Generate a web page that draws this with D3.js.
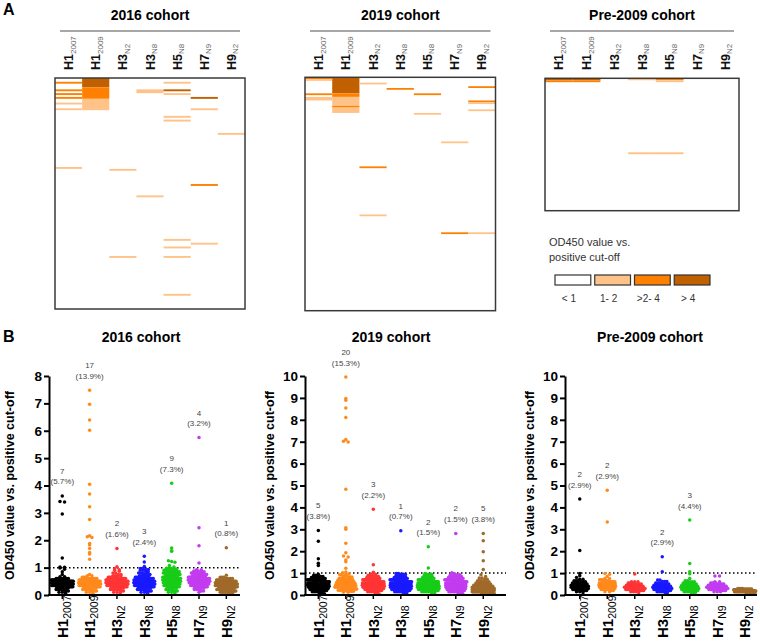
<!DOCTYPE html>
<html><head><meta charset="utf-8">
<script src="https://cdn.jsdelivr.net/npm/d3@7"></script>
<style>
body{margin:0;background:#fff}
svg{display:block}
text{font-family:"Liberation Sans",Arial,Helvetica,sans-serif}
</style>
</head><body>
<svg id="c" width="760" height="641"></svg>
<script>
// ---------------- DATA ----------------
const antigens = [["H1","2007"],["H1","2009"],["H3","N2"],["H3","N8"],["H5","N8"],["H7","N9"],["H9","N2"]];
const cohorts = ["2016 cohort","2019 cohort","Pre-2009 cohort"];
const cohortN = [122,131,68];
const dotColors = ["#000000","#ff8a1c","#ff3535","#1a1aff","#18cc18","#c23cf0","#a06a2a"];
const levelColors = ["#ffffff","#ffc389","#ff8000","#c06000"];
const levelLabels = ["< 1","1- 2",">2- 4","> 4"];
const legendTitle = ["OD450 value vs.","positive cut-off"];
const yTitle = "OD450 value vs. positive cut-off";
const yMax = [8,10,10];

// heatmap: for each antigen, [row (sample index), level]
const heat2016 = [
  [[2,2],[6,2],[8,2],[10,2],[13,1],[16,1],[47,1]],
  [[0,3],[1,3],[2,3],[3,3],[4,3],[5,2],[6,2],[7,2],[8,2],[9,2],[10,2],[11,1],[12,1],[13,1],[14,1],[15,1],[16,1]],
  [[48,1],[94,1]],
  [[6,1],[7,1],[62,1]],
  [[2,1],[6,3],[8,1],[20,1],[22,1],[85,1],[89,1],[94,1],[114,1]],
  [[10,3],[16,1],[56,2],[87,1]],
  [[29,1]]
];
const heat2019 = [
  [[0,2],[1,1],[9,2],[11,1],[12,1]],
  [[0,3],[1,3],[2,3],[3,3],[4,3],[5,3],[6,3],[7,3],[8,3],[9,2],[10,2],[11,1],[12,1],[13,1],[14,1],[15,1],[16,2],[17,1],[18,1],[19,1]],
  [[3,1],[50,2],[77,1]],
  [[6,2]],
  [[9,2],[20,1]],
  [[36,1],[87,2]],
  [[5,2],[13,2],[14,1],[18,1],[87,1]]
];
const heatPre = [
  [[0,3],[1,2]],
  [[0,3],[1,2]],
  [],
  [[0,1],[38,1]],
  [[0,2],[1,1],[38,1]],
  [],
  []
];

// scatter values: [value, number of samples at that value]
const pts2016 = [
  [[3.62,1],[3.42,1],[3.40,1],[2.96,1],[1.35,1],[1.02,1],[1.01,1],[0.99,1],[0.94,1],[0.85,1],[0.75,1],[0.67,2],[0.6,8],[0.55,12],[0.5,16],[0.45,17],[0.4,16],[0.35,12],[0.3,10],[0.25,7],[0.2,5],[0.15,3],[0.1,2],[0.06,1]],
  [[7.48,1],[6.97,1],[6.39,1],[6.02,1],[4.05,1],[3.69,1],[3.22,1],[2.76,1],[2.16,1],[2.13,1],[2.10,1],[1.88,1],[1.83,1],[1.70,1],[1.55,1],[1.50,1],[1.31,1],[0.75,1],[0.7,2],[0.65,4],[0.6,7],[0.55,10],[0.5,12],[0.45,13],[0.4,13],[0.35,12],[0.3,10],[0.25,8],[0.2,6],[0.15,4],[0.1,2],[0.06,1]],
  [[1.70,1],[1.03,1],[0.97,1],[0.92,1],[0.9,1],[0.87,1],[0.8,2],[0.75,2],[0.7,4],[0.65,6],[0.6,9],[0.55,12],[0.5,14],[0.45,14],[0.4,13],[0.35,11],[0.3,9],[0.25,8],[0.2,6],[0.15,3],[0.1,2],[0.06,1]],
  [[1.42,1],[1.21,1],[1.04,1],[0.97,2],[0.93,2],[0.9,2],[0.85,2],[0.8,3],[0.75,4],[0.7,5],[0.65,7],[0.6,9],[0.55,10],[0.5,11],[0.45,11],[0.4,11],[0.35,10],[0.3,9],[0.25,8],[0.2,6],[0.15,4],[0.1,2],[0.06,1]],
  [[4.08,1],[1.72,1],[1.62,1],[1.60,1],[1.25,1],[1.22,1],[1.20,1],[1.08,1],[1.02,1],[0.98,3],[0.95,3],[0.9,5],[0.85,7],[0.8,7],[0.75,7],[0.7,8],[0.65,8],[0.6,8],[0.55,8],[0.5,8],[0.45,7],[0.4,7],[0.35,6],[0.3,6],[0.25,5],[0.2,4],[0.15,3],[0.1,2],[0.06,1]],
  [[5.75,1],[2.46,1],[1.80,1],[1.17,1],[0.92,2],[0.88,3],[0.85,3],[0.8,5],[0.75,7],[0.7,9],[0.65,10],[0.6,12],[0.55,12],[0.5,11],[0.45,10],[0.4,9],[0.35,8],[0.3,6],[0.25,5],[0.2,3],[0.15,2],[0.1,1]],
  [[1.73,1],[0.72,1],[0.65,3],[0.6,5],[0.55,8],[0.5,11],[0.45,13],[0.4,14],[0.35,14],[0.3,14],[0.25,12],[0.2,10],[0.15,8],[0.1,5],[0.06,3]]
];
const pts2019 = [
  [[2.95,1],[2.45,1],[1.65,1],[1.45,1],[1.35,1],[0.95,1],[0.9,2],[0.85,3],[0.8,4],[0.75,6],[0.7,7],[0.65,8],[0.6,9],[0.55,10],[0.5,12],[0.45,12],[0.4,11],[0.35,10],[0.3,9],[0.25,8],[0.2,6],[0.15,4],[0.1,3],[0.06,1]],
  [[9.95,1],[8.97,1],[8.89,1],[8.54,1],[8.10,1],[7.10,1],[7.02,1],[6.99,1],[4.83,1],[3.07,1],[3.00,1],[2.36,1],[1.93,1],[1.78,1],[1.74,1],[1.60,1],[1.52,1],[1.22,1],[1.05,1],[1.02,1],[0.97,2],[0.92,2],[0.87,3],[0.82,3],[0.77,4],[0.72,5],[0.67,6],[0.62,7],[0.57,8],[0.52,9],[0.47,10],[0.42,10],[0.37,10],[0.32,9],[0.27,9],[0.22,7],[0.17,5],[0.12,2]],
  [[3.92,1],[1.38,1],[1.04,1],[0.95,2],[0.9,3],[0.85,3],[0.8,4],[0.75,5],[0.7,6],[0.65,7],[0.6,9],[0.55,11],[0.5,12],[0.45,12],[0.4,12],[0.35,12],[0.3,9],[0.25,8],[0.2,6],[0.15,4],[0.1,2],[0.06,1]],
  [[2.93,1],[0.98,2],[0.95,3],[0.9,2],[0.85,3],[0.8,4],[0.75,5],[0.7,6],[0.65,8],[0.6,9],[0.55,10],[0.5,11],[0.45,11],[0.4,11],[0.35,11],[0.3,10],[0.25,9],[0.2,7],[0.15,5],[0.1,3]],
  [[2.20,1],[1.23,1],[0.98,1],[0.95,2],[0.9,2],[0.85,2],[0.8,3],[0.75,4],[0.7,5],[0.65,7],[0.6,8],[0.55,10],[0.5,11],[0.45,11],[0.4,12],[0.35,12],[0.3,11],[0.25,10],[0.2,9],[0.15,6],[0.1,3]],
  [[2.81,1],[1.02,1],[0.97,1],[0.93,2],[0.9,3],[0.85,4],[0.8,5],[0.75,6],[0.7,7],[0.65,8],[0.6,9],[0.55,10],[0.5,10],[0.45,10],[0.4,10],[0.35,10],[0.3,9],[0.25,8],[0.2,7],[0.15,6],[0.1,3],[0.07,1]],
  [[2.81,1],[2.48,1],[1.97,1],[1.56,1],[1.17,1],[0.92,1],[0.85,1],[0.78,2],[0.72,2],[0.65,3],[0.6,4],[0.55,5],[0.5,6],[0.45,8],[0.4,10],[0.35,12],[0.3,14],[0.25,14],[0.2,14],[0.15,12],[0.1,10],[0.07,8]]
];
const ptsPre = [
  [[4.38,1],[2.03,1],[0.98,1],[0.88,1],[0.8,1],[0.72,2],[0.65,3],[0.6,4],[0.55,5],[0.5,6],[0.45,7],[0.4,8],[0.35,8],[0.3,7],[0.25,6],[0.2,4],[0.15,2],[0.1,1]],
  [[4.78,1],[3.33,1],[0.98,1],[0.95,1],[0.85,1],[0.75,2],[0.7,3],[0.65,4],[0.6,5],[0.55,6],[0.5,7],[0.45,7],[0.4,7],[0.35,6],[0.3,6],[0.25,5],[0.2,3],[0.15,2]],
  [[0.96,1],[0.6,3],[0.55,4],[0.5,5],[0.45,6],[0.4,8],[0.35,10],[0.3,11],[0.25,10],[0.2,6],[0.15,3],[0.1,1]],
  [[1.75,1],[1.06,1],[0.68,2],[0.62,3],[0.55,4],[0.5,5],[0.45,6],[0.4,8],[0.35,9],[0.3,9],[0.25,8],[0.2,6],[0.15,4],[0.1,2]],
  [[3.42,1],[1.44,1],[1.06,1],[0.97,1],[0.75,1],[0.65,2],[0.6,3],[0.55,4],[0.5,5],[0.45,6],[0.4,7],[0.35,8],[0.3,8],[0.25,7],[0.2,6],[0.15,4],[0.1,3]],
  [[0.87,2],[0.6,2],[0.55,4],[0.5,5],[0.45,7],[0.4,9],[0.35,11],[0.3,11],[0.25,9],[0.2,5],[0.15,3]],
  [[0.3,4],[0.27,6],[0.24,10],[0.21,13],[0.18,14],[0.15,11],[0.12,7],[0.09,3]]
];
const count2016 = ["7","17","2","3","9","4","1"];
const pct2016 = ["(5.7%)","(13.9%)","(1.6%)","(2.4%)","(7.3%)","(3.2%)","(0.8%)"];
const count2019 = ["5","20","3","1","2","2","5"];
const pct2019 = ["(3.8%)","(15.3%)","(2.2%)","(0.7%)","(1.5%)","(1.5%)","(3.8%)"];
const countPre = ["2","2",null,"2","3",null,null];
const pctPre = ["(2.9%)","(2.9%)",null,"(2.9%)","(4.4%)",null,null];

// ---------------- DRAW ----------------
const svg = d3.select("#c");
svg.append("text").attr("x",3).attr("y",15).attr("font-size",16).attr("font-weight","bold").text("A");
svg.append("text").attr("x",3).attr("y",342).attr("font-size",16).attr("font-weight","bold").text("B");

const heatData = [heat2016, heat2019, heatPre];
const hmBox = [
  {x0:55, x1:245, y0:78, y1:309},
  {x0:305, x1:495.5, y0:77.3, y1:310.7},
  {x0:545, x1:739, y0:78.3, y1:210.7}
];

// merge consecutive rows with the same level into runs
function runs(col){
  const s = col.slice().sort((a,b)=>a[0]-b[0]);
  const out = [];
  s.forEach(([r,l])=>{
    const last = out[out.length-1];
    if (last && last.l===l && last.r1===r) last.r1 = r+1;
    else out.push({r0:r, r1:r+1, l});
  });
  return out;
}

hmBox.forEach((B,i)=>{
  const g = svg.append("g");
  const x = d3.scaleBand().domain(d3.range(antigens.length)).range([B.x0,B.x1]);
  const y = d3.scaleLinear().domain([0,cohortN[i]]).range([B.y0,B.y1]);
  g.append("text").attr("x",(B.x0+B.x1)/2).attr("y",20).attr("text-anchor","middle")
    .attr("font-size",14).attr("font-weight","bold").text(cohorts[i]);
  g.append("line").attr("x1",B.x0+5).attr("x2",B.x1-5).attr("y1",31).attr("y2",31)
    .attr("stroke","#8a8a8a").attr("stroke-width",1.5);
  heatData[i].forEach((col,j)=>{
    g.selectAll(null).data(runs(col)).enter().append("rect")
      .attr("x",x(j)).attr("width",x.bandwidth())
      .attr("y",d=>y(d.r0)).attr("height",d=>y(d.r1)-y(d.r0))
      .attr("fill",d=>levelColors[d.l]);
  });
  g.append("rect").attr("x",B.x0).attr("y",B.y0).attr("width",B.x1-B.x0).attr("height",B.y1-B.y0)
    .attr("fill","none").attr("stroke","#3a3a3a").attr("stroke-width",1.5);
  antigens.forEach((a,j)=>{
    const cx = x(j)+x.bandwidth()/2;
    const t = g.append("text").attr("transform",`translate(${cx+4.5},70) rotate(-90)`)
      .attr("text-anchor","start");
    t.append("tspan").attr("font-size",12.5).attr("font-weight","bold").attr("fill","#111").text(a[0]);
    t.append("tspan").attr("font-size",8).attr("fill","#666").attr("dy",2.5).text(a[1]);
  });
});

// legend
const lg = svg.append("g");
legendTitle.forEach((s,k)=>{
  lg.append("text").attr("x",549).attr("y",246+k*14.5).attr("font-size",11).attr("fill","#333").text(s);
});
const lx = d3.scaleBand().domain(levelLabels).range([555,710]).paddingInner(0.1);
lg.selectAll(null).data(levelLabels).enter().append("rect")
  .attr("x",d=>lx(d)).attr("y",275).attr("width",lx.bandwidth()).attr("height",10)
  .attr("fill",(d,k)=>levelColors[k]).attr("stroke","#333").attr("stroke-width",1.2);
lg.selectAll(null).data(levelLabels).enter().append("text")
  .attr("x",d=>lx(d)+lx.bandwidth()/2-4).attr("y",302).attr("text-anchor","middle")
  .attr("font-size",10).attr("fill","#333").text(d=>d);

// scatter panels
const ptsData = [pts2016, pts2019, ptsPre];
const countData = [count2016, count2019, countPre];
const pctData = [pct2016, pct2019, pctPre];
const sc = [
  {ax:49, b0:48.6, b1:240, xEnd:240, titleX:141, labX:14},
  {ax:305, b0:304.6, b1:497, xEnd:506, titleX:391, labX:274},
  {ax:565, b0:566, b1:758.5, xEnd:757, titleX:650, labX:534}
];
const Y0 = 595, Y1 = 376;

// row-based dot spreading: row width grows with sqrt of the row's count
function swarm(vals, y, cx, maxW, rowH){
  const items = vals.map(v=>({v, py:y(v)}));
  const rows = d3.group(items, d=>Math.round(d.py/rowH));
  const out = [];
  for (const [k, arr] of rows){
    const n = arr.length;
    const w = n>1 ? Math.min(maxW, 4.6*Math.sqrt(n-1)) : 0;
    const s = n>1 ? w/(n-1) : 0;
    arr.forEach((d,i)=>out.push({x:cx+(i-(n-1)/2)*s, y:d.py}));
  }
  return out;
}

sc.forEach((P,i)=>{
  const g = svg.append("g");
  const x = d3.scaleBand().domain(d3.range(antigens.length)).range([P.b0,P.b1]);
  const y = d3.scaleLinear().domain([0,yMax[i]]).range([Y0,Y1]);
  g.append("text").attr("x",P.titleX).attr("y",342).attr("text-anchor","middle")
    .attr("font-size",14).attr("font-weight","bold").text(cohorts[i]);
  g.append("text").attr("transform",`translate(${P.labX},${(Y0+Y1)/2}) rotate(-90)`)
    .attr("text-anchor","middle").attr("font-size",12.5).attr("font-weight","bold").text(yTitle);

  g.append("line").attr("x1",P.ax).attr("x2",P.xEnd).attr("y1",y(1)).attr("y2",y(1))
    .attr("stroke","#000").attr("stroke-width",1.5).attr("stroke-dasharray","1.5,2.5");

  ptsData[i].forEach((grp,j)=>{
    const vals = [];
    grp.forEach(([v,c])=>{ for(let k=0;k<c;k++) vals.push(v); });
    const cx = x(j)+x.bandwidth()/2;
    const pos = swarm(vals, y, cx, 22, 2.4);
    g.selectAll(null).data(pos).enter().append("circle")
      .attr("cx",d=>d.x).attr("cy",d=>d.y).attr("r",1.75).attr("fill",dotColors[j]);
    if (countData[i][j]){
      const top = y(d3.max(vals));
      g.append("text").attr("x",cx).attr("y",top-22).attr("text-anchor","middle")
        .attr("font-size",8).attr("fill","#444").text(countData[i][j]);
      g.append("text").attr("x",cx).attr("y",top-11.5).attr("text-anchor","middle")
        .attr("font-size",8).attr("fill","#444").text(pctData[i][j]);
    }
  });

  const ya = d3.axisLeft(y).tickValues(d3.range(0,yMax[i]+1)).tickFormat(d3.format("d"))
    .tickSize(5).tickSizeOuter(0).tickPadding(2);
  const ag = g.append("g").attr("transform",`translate(${P.ax},0)`).call(ya);
  ag.select(".domain").attr("stroke-width",2);
  ag.selectAll(".tick line").attr("stroke-width",2);
  ag.selectAll(".tick text").attr("font-size",13.5).attr("font-weight","bold")
    .attr("font-family",'"Liberation Sans",Arial,sans-serif').attr("fill","#000");
  g.append("line").attr("x1",P.ax-1).attr("x2",P.xEnd).attr("y1",Y0).attr("y2",Y0)
    .attr("stroke","#000").attr("stroke-width",2);
  antigens.forEach((a,j)=>{
    const cx = x(j)+x.bandwidth()/2;
    g.append("line").attr("x1",cx).attr("x2",cx).attr("y1",Y0).attr("y2",Y0+4)
      .attr("stroke","#000").attr("stroke-width",1.5);
    const t = g.append("text").attr("transform",`translate(${cx+5.5},638) rotate(-90)`)
      .attr("text-anchor","start");
    t.append("tspan").attr("font-size",15).attr("font-weight","bold").text(a[0]);
    t.append("tspan").attr("font-size",10.5).attr("dy",3).text(a[1]);
  });
});
</script>
</body></html>
